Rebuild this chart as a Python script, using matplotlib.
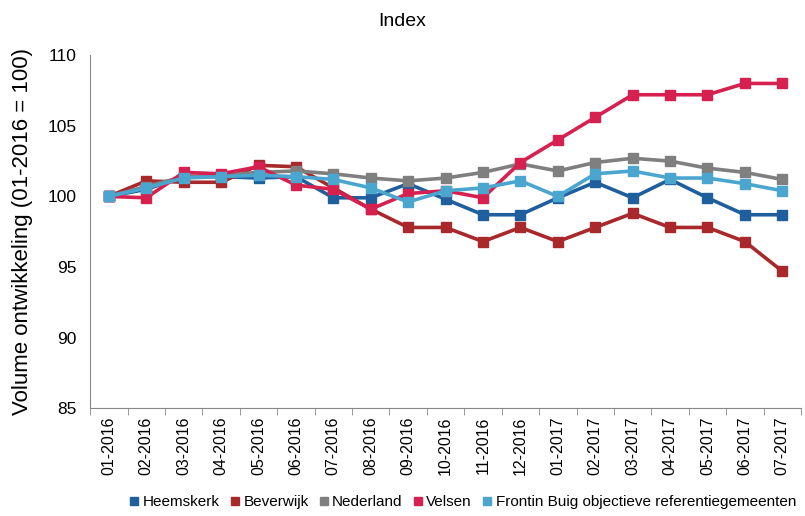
import matplotlib
matplotlib.use("Agg")
import matplotlib.pyplot as plt
import numpy as np

months = ["01-2016", "02-2016", "03-2016", "04-2016", "05-2016", "06-2016", "07-2016",
          "08-2016", "09-2016", "10-2016", "11-2016", "12-2016", "01-2017", "02-2017",
          "03-2017", "04-2017", "05-2017", "06-2017", "07-2017"]

heemskerk = [100, 100.5, 101.4, 101.4, 101.3, 101.4, 99.9, 99.9, 100.9, 99.8, 98.7, 98.7,
             99.9, 101.0, 99.9, 101.2, 99.9, 98.7, 98.7]
beverwijk = [100, 101.1, 101.0, 101.0, 102.2, 102.1, 100.6, 99.1, 97.8, 97.8, 96.8, 97.8,
             96.8, 97.8, 98.8, 97.8, 97.8, 96.8, 94.7]
nederland = [100, 100.7, 101.4, 101.5, 101.7, 101.8, 101.6, 101.3, 101.1, 101.3, 101.7, 102.3,
             101.8, 102.4, 102.7, 102.5, 102.0, 101.7, 101.2]
velsen = [100, 99.9, 101.7, 101.6, 102.1, 100.8, 100.5, 99.1, 100.2, 100.4, 99.9, 102.4,
          104.0, 105.6, 107.2, 107.2, 107.2, 108.0, 108.0]
frontin = [100, 100.6, 101.3, 101.4, 101.5, 101.4, 101.2, 100.6, 99.6, 100.4, 100.6, 101.1,
           100.0, 101.6, 101.8, 101.3, 101.3, 100.9, 100.4]

series = [
    ("Heemskerk", heemskerk, "#1f5f9e"),
    ("Beverwijk", beverwijk, "#a8282c"),
    ("Nederland", nederland, "#7f7f7f"),
    ("Velsen", velsen, "#d6204f"),
    ("Frontin Buig objectieve referentiegemeenten", frontin, "#4ba6cf"),
]

plt.rcParams['font.family'] = ['Liberation Sans', 'DejaVu Sans']

fig = plt.figure(figsize=(8.05, 5.16), dpi=100)
ax = fig.add_axes([0.112, 0.209, 0.883, 0.684])

x = np.arange(len(months))
for name, vals, col in series:
    ax.plot(x, vals, color=col, lw=2.6, marker="s", markersize=6.5,
            markeredgecolor=col, label=name)

ax.set_xlim(-0.5, len(months) - 0.5)
ax.set_ylim(85, 110)
ax.set_yticks([85, 90, 95, 100, 105, 110])
ax.set_xticks(x)
ax.set_xticklabels(months, rotation=90, fontsize=11.5)
ax.set_xticks(np.arange(-0.5, len(months), 1), minor=True)
ax.tick_params(axis="x", which="major", length=0, pad=6)
ax.tick_params(axis="x", which="minor", length=5, color="#888888")
ax.tick_params(axis="y", length=0, labelsize=12.5, pad=10)
for s in ["top", "right"]:
    ax.spines[s].set_visible(False)
for s in ["left", "bottom"]:
    ax.spines[s].set_color("#888888")

ax.set_ylabel("Volume ontwikkeling (01-2016 = 100)", fontsize=16, labelpad=10)
fig.suptitle("Index", fontsize=14, y=0.975)

handles = [plt.Line2D([], [], marker="s", ls="", color=c, markersize=6) for _, _, c in series]
fig.legend(handles, [n for n, _, _ in series], loc="center", bbox_to_anchor=(0.574, 0.027),
           ncol=5, frameon=False, fontsize=11, handletextpad=0.15, columnspacing=0.6,
           handlelength=0.8)

fig.savefig("out.png", dpi=100)
